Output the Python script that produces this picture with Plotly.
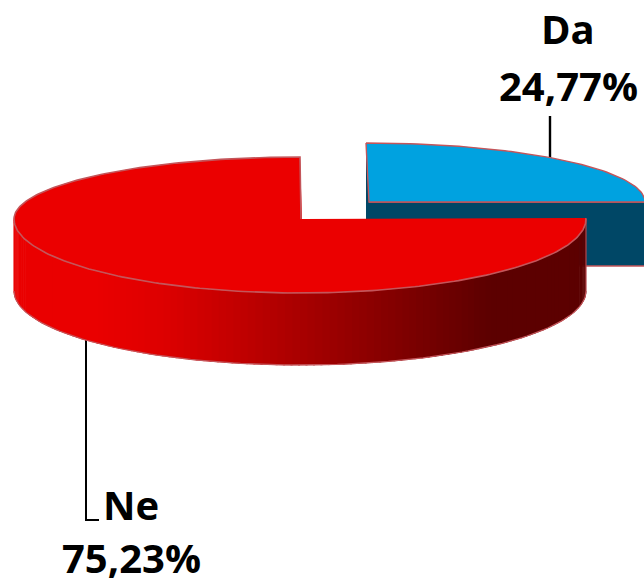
import math
import plotly.graph_objects as go

categories = ["Da", "Ne"]
values = [24.77, 75.23]
value_labels = ["24,77%", "75,23%"]

W, H = 644, 585
EDGE = "#C4555A"
BLUE_TOP, BLUE_SIDE = "#00A2E0", "#004766"
RED_TOP = "#EB0000"
GRAD = [(14, (234, 0, 0)), (95, (234, 0, 0)), (160, (222, 0, 0)), (225, (198, 0, 0)),
        (320, (160, 0, 0)), (490, (92, 0, 0)), (585, (92, 0, 0))]

# pie geometry in picture pixels (top ellipses are seen in perspective)
B = dict(cx=367, cy=202, a=278, up=59, low=59, depth=64)
R = dict(cx=300, cy=219, a=286, up=62, low=74, depth=72, ax=302)

end_deg = values[0] / sum(values) * 360


def pt(g, deg, dy=0):
    t = math.radians(deg)
    c = math.cos(t)
    return g["cx"] + g["a"] * math.sin(t), g["cy"] - (g["up"] if c > 0 else g["low"]) * c + dy


def arc(g, d0, d1, n=180, dy=0):
    pts = [pt(g, d0 + (d1 - d0) * i / n, dy) for i in range(n + 1)]
    return [p[0] for p in pts], [p[1] for p in pts]


def shade(x):
    for (x0, c0), (x1, c1) in zip(GRAD, GRAD[1:]):
        if x <= x1:
            f = max(0, (x - x0) / (x1 - x0))
            return "rgb(%d,%d,%d)" % tuple(round(u + (v - u) * f) for u, v in zip(c0, c1))
    return "rgb(%d,%d,%d)" % GRAD[-1][1]


fig = go.Figure()


def poly(xs, ys, fill=None, line=None, lw=0):
    fig.add_trace(go.Scatter(
        x=xs, y=ys, mode="lines", hoverinfo="skip", showlegend=False,
        fill="toself" if fill else None, fillcolor=fill,
        line=dict(color=line or fill or "rgba(0,0,0,0)", width=lw),
    ))


# leader lines
poly([550, 550], [116, 162], line="#000000", lw=2.4)
poly([86, 86, 99], [338, 520, 520], line="#000000", lw=2)

# Da slice: cut face, back sliver, top
ex, ey = pt(B, end_deg)
poly([B["cx"] + 2, ex + 10, ex + 10, B["cx"] + 2], [B["cy"], B["cy"], B["cy"] + B["depth"], B["cy"] + B["depth"]],
     fill=BLUE_SIDE, line=EDGE, lw=1.4)
poly([366, 369, 369, 366], [150, 150, 220, 220], fill=BLUE_SIDE)
xs, ys = arc(B, 0, end_deg, 60)
poly([B["cx"] - 1] + xs + [ex + 10, B["cx"] + 2, B["cx"] - 1], [B["cy"] - B["up"]] + ys + [B["cy"], B["cy"], B["cy"] - B["up"]],
     fill=BLUE_TOP, line=EDGE, lw=1.4)

# Ne slice: shaded side wall, strip by strip
step = 1.5
d = 90.0
while d < 270:
    xa, ya = arc(R, d, d + step + 0.4, 3)
    xb, yb = arc(R, d + step + 0.4, d, 3, dy=R["depth"])
    c = shade((xa[0] + xa[-1]) / 2)
    poly(xa + xb, ya + yb, fill=c, line=c, lw=0.6)
    d += step

# side wall outline along the bottom
xs, ys = arc(R, 90, 270, 120, dy=R["depth"])
poly(xs, ys, line=EDGE, lw=1.2)
poly([R["cx"] + R["a"]] * 2, [R["cy"], R["cy"] + R["depth"]], line=EDGE, lw=1)

# Ne slice: top
xs, ys = arc(R, end_deg, 360, 270)
poly([R["ax"]] + xs + [R["ax"]], [R["cy"]] + ys + [R["cy"]], fill=RED_TOP)
poly(xs[:] + [R["ax"] - 1], ys[:] + [R["cy"]], line=EDGE, lw=1.6)

label_pos = [((568, 28), (568, 85)), ((131, 504), (131, 557))]
for cat, lab, (p1, p2) in zip(categories, value_labels, label_pos):
    for txt, p in ((cat, p1), (lab, p2)):
        fig.add_annotation(x=p[0], y=p[1], text=f"<b>{txt}</b>", showarrow=False,
                           xanchor="center", yanchor="middle",
                           font=dict(family="Open Sans, sans-serif", size=40, color="#000000"))

fig.update_layout(
    width=W, height=H, margin=dict(l=0, r=0, t=0, b=0), autosize=False,
    paper_bgcolor="#ffffff", plot_bgcolor="#ffffff", showlegend=False,
    xaxis=dict(range=[0, W], visible=False, fixedrange=True),
    yaxis=dict(range=[H, 0], visible=False, fixedrange=True),
)
fig.write_html("out.html", config={"displayModeBar": False},
               post_script="document.body.style.margin='0';document.documentElement.style.overflow='hidden';")
